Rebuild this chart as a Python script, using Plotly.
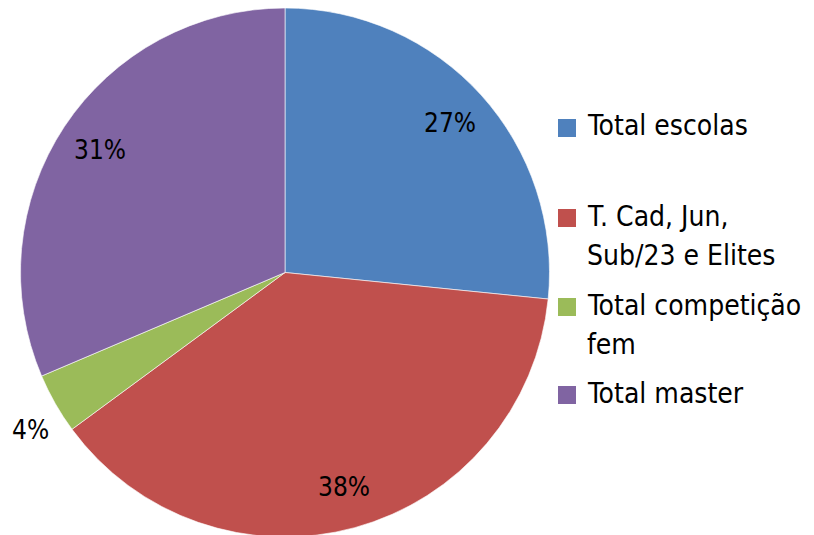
import math
import plotly.graph_objects as go

# ---- data ----
categories = ["Total escolas", "T. Cad, Jun, Sub/23 e Elites", "Total competição fem", "Total master"]
legend_labels = ["Total escolas", "T. Cad, Jun,<br>Sub/23 e Elites", "Total competição<br>fem", "Total master"]
values = [26.6, 38.3, 3.7, 31.4]
colors = ["#4F81BD", "#C0504D", "#9BBB59", "#8064A2"]

# ---- layout constants (page pixels; page body has an 8px margin) ----
W, H = 814, 535
OFF = 8
CX, CY, R = 285.0 - OFF, 264.5, 264.5
FONT = "DejaVu Sans Condensed"
FS_PCT = 26
FS_LEG = 28


def px_x(x):
    return (x - OFF) / W


def px_y(y):
    return (H - (y - OFF)) / H


fig = go.Figure()
fig.add_trace(go.Pie(
    labels=categories,
    values=values,
    marker=dict(colors=colors, line=dict(color="rgba(255,255,255,0.6)", width=1)),
    sort=False,
    direction="clockwise",
    rotation=0,
    textinfo="none",
    hoverinfo="label+percent",
    showlegend=False,
    domain=dict(x=[(CX - R) / W, (CX + R) / W], y=[(H - 2 * R) / H, 1.0]),
))

# percentage labels, placed along each slice's mid-angle
total = sum(values)
cum = 0.0
annotations = []
for v in values:
    frac = v / total
    mid = (cum + frac / 2) * 2 * math.pi
    cum += frac
    if frac > 0.08:
        rr = 0.84 * R
        ang = mid
    else:
        # small slice: label outside, nudged slightly as Excel does
        rr = 1.13 * R
        ang = mid - math.radians(2)
    fx = CX + rr * math.sin(ang)
    fy = CY - rr * math.cos(ang)
    annotations.append(dict(
        x=fx / W, y=(H - fy) / H, xref="paper", yref="paper",
        text=f"{round(frac * 100)}%", showarrow=False,
        xanchor="center", yanchor="middle",
        font=dict(family=FONT, size=FS_PCT, color="#000000"),
    ))

# manual legend (Excel style)
legend_x_sq = 558
legend_x_txt = 585
legend_y = [126, 216, 305, 393]
line_gap = 39
SQ = 18
shapes = []
for lab, col, ly in zip(legend_labels, colors, legend_y):
    shapes.append(dict(
        type="rect", xref="paper", yref="paper",
        x0=px_x(legend_x_sq), x1=px_x(legend_x_sq + SQ),
        y0=px_y(ly + 2 + SQ / 2), y1=px_y(ly + 2 - SQ / 2),
        fillcolor=col, line=dict(width=0),
    ))
    for i, part in enumerate(lab.split("<br>")):
        yy = ly + i * line_gap
        annotations.append(dict(
            x=px_x(legend_x_txt), y=px_y(yy), xref="paper", yref="paper",
            text=part, showarrow=False, xanchor="left", yanchor="middle",
            font=dict(family=FONT, size=FS_LEG, color="#000000"),
        ))

fig.update_layout(
    width=W, height=H,
    margin=dict(l=0, r=0, t=0, b=0),
    paper_bgcolor="white", plot_bgcolor="white",
    annotations=annotations, shapes=shapes,
)

fig.write_html("out.html")
